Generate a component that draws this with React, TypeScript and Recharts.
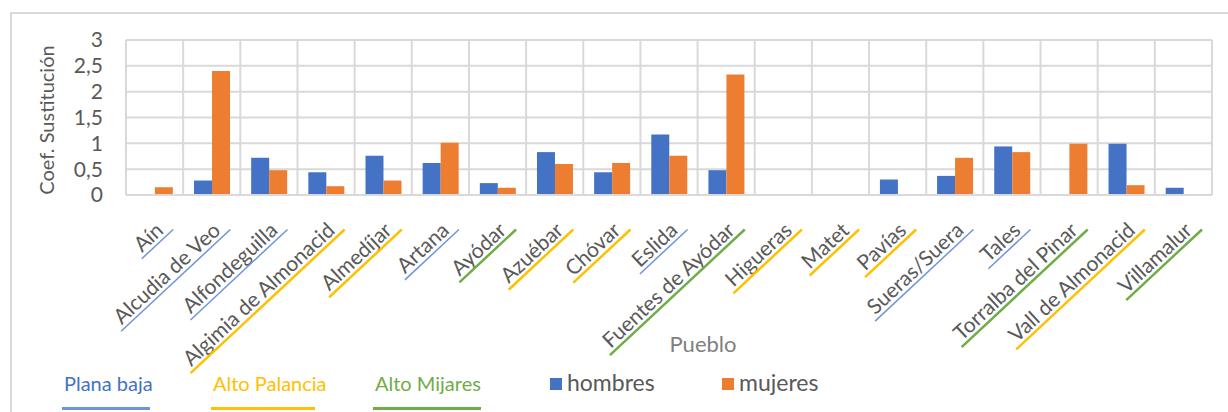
import React from "react";
import { BarChart, Bar, XAxis, YAxis, CartesianGrid, Label } from "recharts";

const pueblos = [
  "Aín", "Alcudia de Veo", "Alfondeguilla", "Algimia de Almonacid", "Almedíjar",
  "Artana", "Ayódar", "Azuébar", "Chóvar", "Eslida", "Fuentes de Ayódar",
  "Higueras", "Matet", "Pavías", "Sueras/Suera", "Tales", "Torralba del Pinar",
  "Vall de Almonacid", "Villamalur",
];
const hombres = [0, 0.28, 0.72, 0.44, 0.76, 0.62, 0.23, 0.83, 0.44, 1.17, 0.48, 0, 0, 0.3, 0.37, 0.94, 0, 0.99, 0.14];
const mujeres = [0.15, 2.4, 0.48, 0.17, 0.28, 1.01, 0.14, 0.6, 0.62, 0.76, 2.33, 0, 0, 0, 0.72, 0.83, 0.99, 0.19, 0];
// comarca of each pueblo: P = Plana baja, A = Alto Palancia, M = Alto Mijares
const comarcas = ["P", "P", "P", "A", "A", "P", "M", "A", "A", "P", "M", "A", "A", "A", "P", "P", "M", "A", "M"];
const yTicks = [0, 0.5, 1, 1.5, 2, 2.5, 3];

const comarcaInfo: Record<string, { label: string; text: string; line: string; lw: number }> = {
  P: { label: "Plana baja", text: "#4472C4", line: "#6F95D8", lw: 1.5 },
  A: { label: "Alto Palancia", text: "#FFC000", line: "#FFC000", lw: 2.5 },
  M: { label: "Alto Mijares", text: "#70AD47", line: "#70AD47", lw: 2.5 },
};

const data = pueblos.map((name, i) => ({
  name,
  hombres: hombres[i],
  mujeres: mujeres[i],
  comarca: comarcas[i],
}));

const FONT = "Lato, 'Open Sans', sans-serif";
const TICK_SIZE = 21;

let ctx: CanvasRenderingContext2D | null = null;
function textWidth(s: string) {
  if (!ctx) ctx = document.createElement("canvas").getContext("2d");
  if (!ctx) return s.length * 10;
  ctx.font = `${TICK_SIZE}px ${FONT}`;
  return ctx.measureText(s).width;
}

// rotated category label with its comarca underline
function PuebloTick(props: any) {
  const { x, y, payload, index } = props;
  const info = comarcaInfo[comarcas[index]];
  const w = textWidth(payload.value);
  return (
    <g transform={`translate(${x + 10},${y + 37}) rotate(-43)`}>
      <text x={0} y={0} textAnchor="end" fill="#595959" fontSize={TICK_SIZE} fontFamily={FONT}>
        {payload.value}
      </text>
      <line x1={8} y1={4} x2={-w - 4} y2={4} stroke={info.line} strokeWidth={info.lw} />
    </g>
  );
}

function Legend() {
  const region = (key: string, left: number, lineW: number) => {
    const c = comarcaInfo[key];
    return (
      <React.Fragment key={key}>
        <span style={{ position: "absolute", left, top: 371, color: c.text, fontSize: 20, fontFamily: FONT, whiteSpace: "nowrap" }}>
          {c.label}
        </span>
        <div style={{ position: "absolute", left: left - 2, top: 407, width: lineW, height: 2.5, background: c.line }} />
      </React.Fragment>
    );
  };
  const serie = (label: string, color: string, left: number) => (
    <React.Fragment key={label}>
      <div style={{ position: "absolute", left, top: 378, width: 12, height: 12, background: color }} />
      <span style={{ position: "absolute", left: left + 17, top: 368, color: "#595959", fontSize: 23, fontFamily: FONT, whiteSpace: "nowrap" }}>
        {label}
      </span>
    </React.Fragment>
  );
  return (
    <>
      {region("P", 64, 88)}
      {region("A", 213, 104)}
      {region("M", 375, 108)}
      {serie("hombres", "#4472C4", 550)}
      {serie("mujeres", "#ED7D31", 722)}
    </>
  );
}

export default function App() {
  const n = pueblos.length;
  return (
    <div style={{ position: "absolute", left: 0, top: 0, width: 1228, height: 412, overflow: "hidden", background: "#fff" }}>
      <div style={{ position: "absolute", left: 10, top: 12, width: 1400, height: 600, border: "2px solid #D9D9D9" }} />
      <BarChart
        width={1228}
        height={412}
        data={data}
        margin={{ top: 40, right: 16, left: 0, bottom: 0 }}
        barCategoryGap="19%"
        barGap={0}
        style={{ position: "absolute", left: 0, top: 0 }}
      >
        <CartesianGrid
          stroke="#D9D9D9"
          strokeWidth={2}
          verticalCoordinatesGenerator={({ offset }: any) =>
            Array.from({ length: n + 1 }, (_, i) => offset.left + (i * offset.width) / n)
          }
        />
        <XAxis
          dataKey="name"
          interval={0}
          tickLine={false}
          tickSize={0}
          tickMargin={0}
          axisLine={{ stroke: "#D9D9D9", strokeWidth: 2 }}
          height={217}
          tick={<PuebloTick />}
        >
          <Label
            content={() => (
              <text x={703} y={352} textAnchor="middle" fill="#7F7F7F" fontSize={22} fontFamily={FONT}>
                Pueblo
              </text>
            )}
          />
        </XAxis>
        <YAxis
          width={126}
          domain={[0, 3]}
          ticks={yTicks}
          interval={0}
          axisLine={false}
          tickLine={false}
          tickSize={0}
          tickMargin={23}
          tick={{ fill: "#595959", fontSize: 21, fontFamily: FONT }}
          tickFormatter={(v: number) => String(v).replace(".", ",")}
        >
          <Label
            content={() => (
              <text
                x={46}
                y={120}
                transform="rotate(-90 46 120)"
                textAnchor="middle"
                dominantBaseline="central"
                fill="#595959"
                fontSize={20}
                fontFamily={FONT}
              >
                Coef. Sustitución
              </text>
            )}
          />
        </YAxis>
        <Bar dataKey="hombres" fill="#4472C4" isAnimationActive={false} />
        <Bar dataKey="mujeres" fill="#ED7D31" isAnimationActive={false} />
      </BarChart>
      <Legend />
    </div>
  );
}
